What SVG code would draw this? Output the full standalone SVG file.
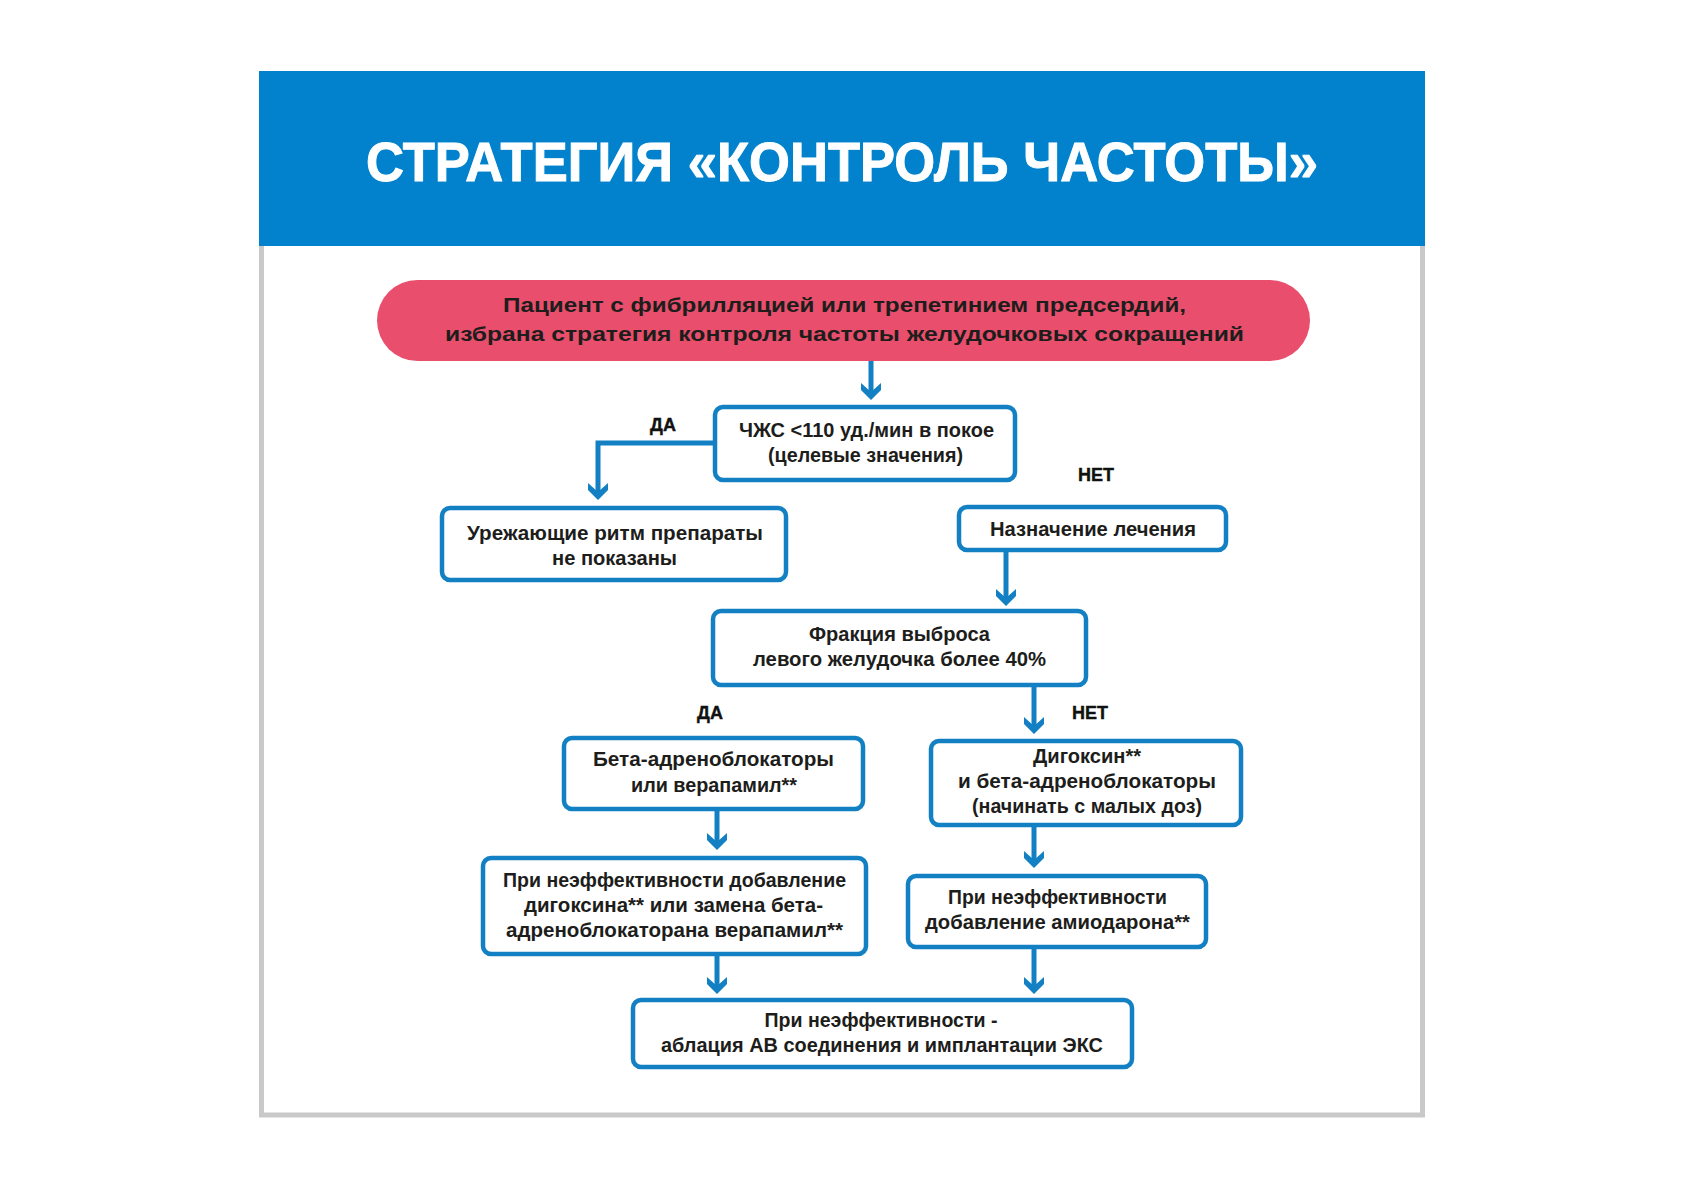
<svg xmlns="http://www.w3.org/2000/svg" width="1683" height="1190" viewBox="0 0 1683 1190">
  <style>
    .box { fill: #ffffff; stroke: #1380c4; stroke-width: 4.5; }
    .t { font-family: "Liberation Sans", Arial, sans-serif; font-weight: bold; font-size: 20.5px; fill: #1d1d1b; text-anchor: middle; }
    .lbl { font-family: "Liberation Sans", Arial, sans-serif; font-weight: bold; font-size: 18px; fill: #111111; text-anchor: middle; stroke: #111111; stroke-width: 0.4; }
    .conn { fill: none; stroke: #1380c4; stroke-width: 5; }
  </style>
  <defs>
    <marker id="arr" markerUnits="userSpaceOnUse" orient="auto" refX="-6" refY="0" markerWidth="40" markerHeight="40" overflow="visible">
      <path d="M0,0 L-10,-10 L-17,-10 L-8,0 L-17,10 L-10,10 Z" fill="#1380c4"/>
    </marker>
  </defs>
  <rect x="0" y="0" width="1683" height="1190" fill="#ffffff"/>

  <g id="frame">
    <rect x="261.5" y="200" width="1161" height="915" fill="#ffffff" stroke="#c9c9c9" stroke-width="5"/>
    <rect x="259" y="71" width="1166" height="175" fill="#0282cc"/>
    <text x="842" y="181" font-family="'Liberation Sans', Arial, sans-serif" font-weight="bold" font-size="56" fill="#ffffff" stroke="#ffffff" stroke-width="1" text-anchor="middle" textLength="952" lengthAdjust="spacingAndGlyphs">СТРАТЕГИЯ «КОНТРОЛЬ ЧАСТОТЫ»</text>
  </g>

  <g id="connectors">
    <path class="conn" d="M871,361 V394" marker-end="url(#arr)"/>
    <path class="conn" d="M713,443 H598 V494" marker-end="url(#arr)"/>
    <path class="conn" d="M1006,552 V600" marker-end="url(#arr)"/>
    <path class="conn" d="M1034,687 V728" marker-end="url(#arr)"/>
    <path class="conn" d="M717,811 V844" marker-end="url(#arr)"/>
    <path class="conn" d="M1034,827 V862" marker-end="url(#arr)"/>
    <path class="conn" d="M717,956 V988" marker-end="url(#arr)"/>
    <path class="conn" d="M1034,949 V988" marker-end="url(#arr)"/>
    <text class="lbl" x="663" y="431">ДА</text>
    <text class="lbl" x="1096" y="481">НЕТ</text>
    <text class="lbl" x="710" y="719">ДА</text>
    <text class="lbl" x="1090" y="719">НЕТ</text>
  </g>

  <g id="start">
    <rect x="377" y="280" width="933" height="81" rx="40.5" fill="#e94f6d"/>
    <text class="t" x="844.5" y="312" font-size="23" textLength="683" lengthAdjust="spacingAndGlyphs">Пациент с фибрилляцией или трепетинием предсердий,</text>
    <text class="t" x="844.5" y="341" font-size="23" textLength="799" lengthAdjust="spacingAndGlyphs">избрана стратегия контроля частоты желудочковых сокращений</text>
  </g>

  <g id="hr">
    <rect class="box" x="715" y="407" width="300" height="73" rx="8"/>
    <text class="t" x="866.5" y="437" textLength="255" lengthAdjust="spacingAndGlyphs">ЧЖС &lt;110 уд./мин в покое</text>
    <text class="t" x="865.5" y="462" textLength="195" lengthAdjust="spacingAndGlyphs">(целевые значения)</text>
  </g>

  <g id="no-drugs">
    <rect class="box" x="442" y="508" width="344" height="72" rx="8"/>
    <text class="t" x="615" y="540" textLength="296" lengthAdjust="spacingAndGlyphs">Урежающие ритм препараты</text>
    <text class="t" x="614.5" y="565" textLength="125" lengthAdjust="spacingAndGlyphs">не показаны</text>
  </g>

  <g id="treatment">
    <rect class="box" x="959" y="507" width="267" height="43" rx="8"/>
    <text class="t" x="1093" y="536" textLength="206" lengthAdjust="spacingAndGlyphs">Назначение лечения</text>
  </g>

  <g id="ef">
    <rect class="box" x="713" y="611" width="373" height="74" rx="8"/>
    <text class="t" x="899.5" y="641" textLength="181" lengthAdjust="spacingAndGlyphs">Фракция выброса</text>
    <text class="t" x="899.5" y="666" textLength="293" lengthAdjust="spacingAndGlyphs">левого желудочка более 40%</text>
  </g>

  <g id="beta">
    <rect class="box" x="564" y="738" width="299" height="71" rx="8"/>
    <text class="t" x="713.5" y="766" textLength="241" lengthAdjust="spacingAndGlyphs">Бета-адреноблокаторы</text>
    <text class="t" x="714" y="792" textLength="166" lengthAdjust="spacingAndGlyphs">или верапамил**</text>
  </g>

  <g id="digoxin">
    <rect class="box" x="931" y="741" width="310" height="84" rx="8"/>
    <text class="t" x="1087" y="763" textLength="108" lengthAdjust="spacingAndGlyphs">Дигоксин**</text>
    <text class="t" x="1087" y="788" textLength="258" lengthAdjust="spacingAndGlyphs">и бета-адреноблокаторы</text>
    <text class="t" x="1087" y="813" textLength="230" lengthAdjust="spacingAndGlyphs">(начинать с малых доз)</text>
  </g>

  <g id="ineff-left">
    <rect class="box" x="483" y="858" width="383" height="96" rx="8"/>
    <text class="t" x="674.5" y="887" textLength="343" lengthAdjust="spacingAndGlyphs">При неэффективности добавление</text>
    <text class="t" x="673.5" y="912" textLength="299" lengthAdjust="spacingAndGlyphs">дигоксина** или замена бета-</text>
    <text class="t" x="674.5" y="937" textLength="337" lengthAdjust="spacingAndGlyphs">адреноблокаторана верапамил**</text>
  </g>

  <g id="ineff-right">
    <rect class="box" x="908" y="876" width="298" height="71" rx="8"/>
    <text class="t" x="1057.5" y="904" textLength="219" lengthAdjust="spacingAndGlyphs">При неэффективности</text>
    <text class="t" x="1057.5" y="929" textLength="265" lengthAdjust="spacingAndGlyphs">добавление амиодарона**</text>
  </g>

  <g id="ablation">
    <rect class="box" x="633" y="1000" width="499" height="67" rx="8"/>
    <text class="t" x="881" y="1027" textLength="233" lengthAdjust="spacingAndGlyphs">При неэффективности -</text>
    <text class="t" x="882" y="1052" textLength="442" lengthAdjust="spacingAndGlyphs">аблация АВ соединения и имплантации ЭКС</text>
  </g>
</svg>
